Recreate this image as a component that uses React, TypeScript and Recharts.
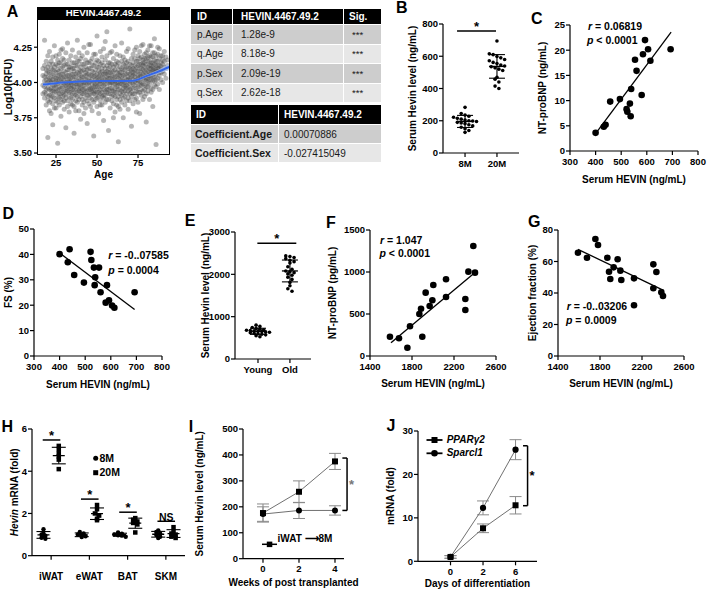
import React from 'react';
import {
  ComposedChart,
  Scatter,
  Line,
  Area,
  XAxis,
  YAxis,
  ErrorBar,
  ReferenceLine,
} from 'recharts';

const FONT = '"Liberation Sans", Arial, Helvetica, sans-serif';

/* ---------- A: plasma HEVIN.4467.49.2 across age ---------- */
// each row: age, then the log10(RFU) readings at that age
const ageCloud: number[][] = [
  [17, 3.98, 4.05, 3.92, 4.1],
  [18, 3.97, 4.04, 3.89, 4.12, 3.93, 4.3, 4.01],
  [19, 4.06, 3.92, 3.99, 4.15, 3.84, 4.02, 3.95, 4.09],
  [20, 3.96, 4.08, 3.9, 4.19, 3.61, 4.0, 3.87, 4.11, 4.04],
  [21, 4.03, 3.86, 3.95, 4.13, 4.22, 3.99, 3.91, 4.07, 3.8, 4.01],
  [22, 3.91, 4.06, 4.0, 3.78, 4.15, 3.96, 4.1, 3.88, 4.02, 3.94],
  [23, 4.09, 3.94, 4.02, 3.85, 4.18, 3.7, 3.98, 4.05, 3.9, 4.13],
  [24, 3.98, 4.11, 3.89, 4.04, 3.93, 4.26, 4.0, 3.82, 4.08, 3.96],
  [25, 4.01, 3.87, 4.13, 3.96, 4.07, 3.82, 3.93, 4.19, 4.03, 3.99],
  [26, 3.94, 4.05, 3.99, 4.16, 3.9, 3.57, 4.09, 3.86, 4.02, 4.12],
  [27, 4.08, 3.92, 4.02, 3.84, 4.2, 3.97, 4.05, 3.89, 4.14, 3.95],
  [28, 3.96, 4.1, 3.88, 4.03, 4.14, 3.76, 4.0, 3.92, 4.23, 4.06],
  [29, 4.0, 3.93, 4.17, 3.86, 4.06, 4.24, 3.97, 4.11, 3.9, 4.03],
  [30, 3.91, 4.04, 3.98, 4.12, 3.81, 4.01, 4.08, 3.94, 4.16, 3.87],
  [31, 4.07, 3.95, 4.21, 3.89, 4.0, 3.68, 4.13, 3.98, 4.04, 3.92],
  [32, 3.99, 4.13, 3.87, 4.05, 3.94, 4.28, 4.02, 3.83, 4.09, 3.96],
  [33, 4.02, 3.9, 4.09, 3.97, 4.16, 3.79, 4.05, 3.93, 4.0, 4.11],
  [34, 3.93, 4.06, 4.0, 3.85, 4.11, 3.96, 4.19, 3.89, 4.03, 3.98],
  [35, 4.1, 3.98, 3.88, 4.03, 4.23, 3.92, 4.06, 3.95, 4.14, 3.84],
  [36, 3.95, 4.08, 4.14, 3.83, 4.0, 3.64, 4.04, 3.91, 4.1, 3.97],
  [37, 4.04, 3.91, 3.99, 4.18, 3.87, 4.06, 3.94, 4.12, 4.01, 3.8],
  [38, 3.97, 4.12, 3.86, 4.01, 4.3, 3.93, 4.07, 3.99, 3.9, 4.15],
  [39, 4.06, 3.94, 4.03, 3.8, 4.15, 3.99, 3.88, 4.09, 4.21, 3.96],
  [40, 3.9, 4.05, 4.11, 3.96, 3.74, 4.02, 4.17, 3.93, 4.08, 3.99],
  [41, 4.01, 3.88, 4.19, 3.95, 4.08, 3.84, 4.04, 3.98, 4.13, 3.92],
  [42, 3.98, 4.13, 3.92, 4.04, 3.86, 4.25, 4.0, 4.09, 3.95, 3.78],
  [43, 4.07, 3.96, 4.0, 3.82, 4.16, 3.93, 4.11, 4.02, 3.89, 4.05],
  [44, 3.94, 4.09, 3.87, 4.02, 4.21, 3.71, 3.99, 4.06, 3.91, 4.14],
  [45, 4.03, 3.91, 4.14, 3.98, 3.85, 4.06, 4.1, 3.95, 4.0, 4.27],
  [46, 3.96, 4.1, 4.01, 3.89, 4.27, 3.95, 4.05, 3.92, 4.15, 3.83],
  [47, 4.05, 3.93, 3.99, 4.17, 3.8, 4.08, 4.02, 3.96, 4.12, 3.88],
  [48, 3.92, 4.04, 4.12, 3.97, 3.86, 3.62, 4.07, 4.0, 3.94, 4.2],
  [49, 4.09, 3.99, 3.88, 4.02, 4.2, 3.94, 4.05, 4.14, 3.91, 3.97],
  [50, 3.97, 4.11, 4.03, 3.83, 4.06, 4.33, 3.93, 4.0, 4.16, 3.89],
  [51, 4.02, 3.9, 4.15, 3.96, 4.08, 3.78, 4.04, 3.99, 4.11, 3.93],
  [52, 3.95, 4.07, 3.99, 4.13, 3.87, 4.01, 4.22, 3.92, 4.05, 3.84],
  [53, 4.1, 3.93, 4.04, 3.84, 4.18, 3.97, 4.01, 4.08, 3.9, 4.14],
  [54, 3.98, 4.12, 3.89, 4.0, 4.24, 3.73, 4.06, 3.95, 4.03, 3.91],
  [55, 4.06, 3.94, 4.16, 3.91, 4.02, 3.86, 4.1, 3.99, 4.07, 4.29],
  [56, 3.93, 4.08, 4.01, 4.19, 3.97, 4.36, 3.88, 4.04, 3.95, 4.12],
  [57, 4.03, 3.88, 4.1, 3.95, 4.05, 3.66, 4.0, 4.14, 3.92, 4.07],
  [58, 3.99, 4.14, 3.92, 4.07, 3.82, 4.0, 4.11, 3.96, 4.03, 4.21],
  [59, 4.08, 3.96, 4.02, 3.87, 4.22, 3.94, 4.05, 3.9, 4.13, 4.0],
  [60, 3.94, 4.05, 4.17, 3.99, 3.85, 4.11, 4.02, 3.91, 4.08, 3.75],
  [61, 4.01, 3.9, 4.09, 3.96, 4.26, 3.79, 4.04, 4.13, 3.93, 3.99],
  [62, 3.97, 4.12, 3.88, 4.04, 3.93, 4.15, 4.0, 4.07, 3.84, 4.2],
  [63, 4.06, 3.98, 4.14, 3.83, 4.0, 3.58, 4.09, 3.95, 4.03, 3.9],
  [64, 3.92, 4.07, 4.02, 3.95, 4.19, 3.88, 4.11, 3.99, 4.05, 3.81],
  [65, 4.04, 3.91, 3.99, 4.1, 3.86, 4.28, 4.01, 3.94, 4.15, 4.07],
  [66, 3.96, 4.13, 4.05, 3.89, 4.01, 3.75, 4.09, 3.93, 4.18, 3.98],
  [67, 4.09, 3.94, 4.0, 4.16, 3.84, 4.03, 3.97, 4.12, 3.9, 4.06],
  [68, 3.98, 4.06, 3.92, 4.11, 4.22, 3.96, 4.02, 3.87, 4.14, 4.0],
  [69, 4.02, 3.89, 4.15, 3.97, 4.07, 3.81, 4.1, 3.94, 4.04, 4.24],
  [70, 3.95, 4.1, 4.03, 3.87, 3.99, 4.38, 4.06, 3.92, 4.13, 4.01],
  [71, 4.07, 3.93, 4.12, 4.0, 3.9, 3.69, 4.04, 4.17, 3.96, 4.09],
  [72, 3.99, 4.14, 3.96, 4.05, 4.2, 3.85, 4.02, 4.1, 3.92, 4.07],
  [73, 4.04, 3.92, 4.09, 3.98, 4.17, 4.01, 4.12, 3.88, 4.06, 4.23],
  [74, 3.96, 4.11, 4.02, 3.89, 4.25, 3.94, 4.08, 4.15, 4.0, 3.79],
  [75, 4.08, 3.97, 4.15, 4.03, 3.86, 4.12, 4.05, 3.93, 4.19, 4.01],
  [76, 4.01, 4.13, 3.93, 4.06, 4.22, 3.78, 4.1, 3.98, 4.04, 4.17],
  [77, 4.1, 3.98, 4.04, 4.18, 3.91, 4.07, 4.13, 4.0, 3.95, 4.26],
  [78, 3.99, 4.12, 4.06, 3.88, 4.16, 4.27, 4.03, 4.09, 3.94, 4.14],
  [79, 4.05, 3.95, 4.14, 4.02, 4.2, 3.9, 4.08, 4.11, 3.98, 4.17],
  [80, 4.09, 4.01, 3.92, 4.17, 4.06, 3.72, 4.13, 4.03, 4.21, 3.97],
  [81, 4.03, 4.15, 3.97, 4.08, 4.23, 3.94, 4.11, 4.05, 4.18, 4.0],
  [82, 4.12, 3.99, 4.05, 4.19, 3.88, 4.1, 4.07, 4.15, 4.02, 4.26],
  [83, 4.07, 4.14, 3.96, 4.02, 4.26, 3.93, 4.1, 4.18, 4.05, 4.12],
  [84, 4.01, 4.11, 4.18, 3.95, 4.08, 3.83, 4.14, 4.04, 4.21, 4.09],
  [85, 4.1, 4.04, 3.98, 4.21, 4.13, 4.31, 4.07, 4.16, 4.01],
  [86, 4.06, 4.15, 3.97, 4.09, 4.02, 3.56, 4.12, 4.19, 4.08],
  [87, 4.12, 4.03, 4.2, 3.99, 4.08, 4.15, 4.1, 4.25],
  [88, 4.05, 4.17, 4.1, 3.95, 4.24, 4.12, 4.07],
  [89, 4.11, 4.02, 4.14, 4.07, 4.19, 4.09],
  [90, 4.08, 4.19, 4.0, 4.13, 4.16],
  [91, 4.15, 4.06, 4.22, 4.11],
  [92, 4.1, 4.18, 4.03],
  [93, 4.12, 4.16],
];
const loessAge = [17, 25, 35, 50, 60, 72, 80, 87, 94];
const loessFit = [3.985, 3.995, 4.003, 4.01, 4.011, 4.013, 4.045, 4.075, 4.11];
const loessHalfBand = [0.012, 0.007, 0.005, 0.005, 0.005, 0.006, 0.009, 0.014, 0.022];
const ageTicks = [25, 50, 75];
const rfuTicks = [3.5, 3.75, 4.0, 4.25];

const pValueRows = [
  ['p.Age', '1.28e-9', '***'],
  ['q.Age', '8.18e-9', '***'],
  ['p.Sex', '2.09e-19', '***'],
  ['q.Sex', '2.62e-18', '***'],
];
const coefRows = [
  ['Coefficient.Age', '0.00070886'],
  ['Coefficient.Sex', '-0.027415049'],
];

/* ---------- B: serum Hevin in 8- and 20-month mice ---------- */
const mouseAges = ['8M', '20M'];
const serum8M = [283, 245, 235, 228, 222, 215, 210, 205, 200, 198, 195, 190, 186, 182, 175, 168, 160, 150, 140, 128];
const serum20M = [695, 615, 610, 598, 590, 580, 572, 562, 555, 545, 540, 535, 528, 520, 512, 470, 458, 440, 415, 400];

/* ---------- C / D: the same 18 mice ---------- */
const mouseHevin = [400, 432, 439, 457, 495, 521, 524, 534, 537, 539, 554, 560, 580, 585, 593, 605, 614, 693];
const mouseNtProBnp = [3.6, 4.8, 5.2, 9.8, 10.3, 8.3, 7.8, 9.4, 6.9, 12.3, 18.1, 15.9, 11.1, 19.2, 22.0, 20.2, 17.9, 20.2];
const mouseFs = [40.1, 36.9, 42.0, 31.9, 28.9, 41.0, 37.8, 34.8, 27.9, 31.0, 34.8, 25.1, 21.0, 27.9, 21.9, 19.9, 19.0, 25.1];
const cSlope = 0.06819;
const dSlope = -0.07585;

/* ---------- E: serum Hevin, young vs old people ---------- */
const humanAges = ['Young', 'Old'];
const serumYoung = [800, 770, 745, 720, 705, 690, 680, 672, 665, 655, 648, 640, 632, 622, 610, 598, 585, 570, 552, 525];
const serumOld = [2435, 2420, 2395, 2370, 2330, 2300, 2270, 2180, 2120, 2080, 2060, 2040, 2010, 1980, 1930, 1880, 1810, 1730, 1660, 1600];

/* ---------- F / G: the same 18 people ---------- */
const humanHevin = [1590, 1676, 1756, 1781, 1870, 1886, 1898, 1930, 1968, 1994, 2003, 2124, 2124, 2308, 2308, 2337, 2384, 2400];
const humanNtProBnp = [230, 211, 99, 354, 500, 563, 230, 754, 595, 663, 845, 913, 702, 679, 548, 1004, 1310, 992];
const humanEf = [65.6, 62.4, 74.3, 70.5, 62.4, 53.5, 48.9, 56.3, 61.4, 54.2, 48.3, 49.3, 32.2, 58.2, 43.0, 53.3, 40.4, 38.1];
const fSlope = 1.047;
const gSlope = -0.03206;

/* ---------- H: Hevin mRNA by tissue ---------- */
const tissues = ['iWAT', 'eWAT', 'BAT', 'SKM'];
const tissue8M = [
  [1.25, 1.05, 1.0, 0.95, 0.85, 0.8],
  [1.12, 1.05, 1.0, 0.97, 0.92, 0.88],
  [1.1, 1.04, 1.0, 0.97, 0.95, 0.9],
  [1.2, 1.12, 1.05, 0.98, 0.9, 0.84],
];
const tissue20M = [
  [5.2, 5.05, 4.85, 4.7, 4.55, 4.1],
  [2.4, 2.2, 2.0, 1.9, 1.75, 1.68],
  [1.78, 1.7, 1.62, 1.55, 1.48, 1.1],
  [1.35, 1.15, 1.05, 1.0, 0.9, 0.84],
];
const tissueSig = ['*', '*', '*', 'NS'];

/* ---------- I: serum Hevin after iWAT transplant ---------- */
const weeks = [0, 2, 4];
const iwatMean = [176, 258, 375];
const iwatSd = [35, 42, 31];
const ctrlMean = [172, 186, 186];
const ctrlSd = [28, 31, 18];

/* ---------- J: adipocyte differentiation ---------- */
const diffDays = ['0', '2', '6'];
const ppargMean = [1, 7.6, 12.9];
const ppargSd = [0.3, 1.0, 2.0];
const sparclMean = [1, 12.3, 25.7];
const sparclSd = [0.3, 1.6, 2.3];

/* ---------- helpers ---------- */
const mean = (v: number[]) => v.reduce((a, b) => a + b, 0) / v.length;
const sd = (v: number[]) => {
  const m = mean(v);
  return Math.sqrt(v.reduce((a, b) => a + (b - m) ** 2, 0) / (v.length - 1));
};

// column scatter: values falling in the same bin are spread sideways around the group centre
function swarm(values: number[], centre: number, bin: number, step: number) {
  const rows = new Map<number, number[]>();
  values.forEach((v) => {
    const k = Math.round(v / bin);
    rows.set(k, [...(rows.get(k) ?? []), v]);
  });
  const out: { x: number; y: number }[] = [];
  rows.forEach((row) =>
    row.forEach((v, i) => out.push({ x: centre + (i - (row.length - 1) / 2) * step, y: v })),
  );
  return out;
}

const fitEnds = (slope: number, at: [number, number], from: number, to: number) =>
  [from, to].map((x) => ({ x, y: at[1] + slope * (x - at[0]) }));

const pairs = (xs: number[], ys: number[]) => xs.map((x, i) => ({ x, y: ys[i] }));

// chart box from the plot rectangle (page px) plus the axis gutters
const frame = (pl: number, pt: number, pw: number, ph: number, yw: number, xh: number, mt = 8, mr = 12) => ({
  left: pl - yw,
  top: pt - mt,
  width: yw + pw + mr,
  height: mt + ph + xh,
  margin: { top: mt, right: mr, bottom: 0, left: 0 },
  yw,
  xh,
});

function Panel({ box, children }: any) {
  return (
    <div style={{ position: 'absolute', left: box.left, top: box.top }}>
      <ComposedChart width={box.width} height={box.height} margin={box.margin}>
        {children}
      </ComposedChart>
    </div>
  );
}

const dot = (r: number, fill: string, opacity = 1) => (p: any) =>
  <circle cx={p.cx} cy={p.cy} r={r} fill={fill} fillOpacity={opacity} />;
const square = (s: number, fill: string) => (p: any) =>
  <rect key={`${p.cx}-${p.cy}`} x={p.cx - s / 2} y={p.cy - s / 2} width={s} height={s} fill={fill} />;
const roundMarker = (r: number, fill: string) => (p: any) =>
  <circle key={`${p.cx}-${p.cy}`} cx={p.cx} cy={p.cy} r={r} fill={fill} />;
const meanBar = (w: number) => (p: any) =>
  <line x1={p.cx - w / 2} x2={p.cx + w / 2} y1={p.cy} y2={p.cy} stroke="#000" strokeWidth={1.3} />;

const axisStroke = { stroke: '#000', strokeWidth: 1.2 };
const tickStyle = { fill: '#000', fontSize: 9.5, fontWeight: 700, fontFamily: FONT };
const xBase = {
  type: 'number' as const,
  allowDataOverflow: true,
  axisLine: axisStroke,
  tickLine: axisStroke,
  tick: tickStyle,
  tickSize: 4,
  tickMargin: 3,
  interval: 0 as const,
};
const yBase = { ...xBase, tickMargin: 1 };
const titleStyle = { fill: '#000', fontSize: 10, fontWeight: 700, fontFamily: FONT, textAnchor: 'middle' as const };
const yTitle = (value: string, offset = 5) => ({
  value,
  angle: -90,
  position: 'insideLeft' as const,
  offset,
  style: titleStyle,
});
// baseline sits 4px above the svg edge so descenders stay visible
const xTitle = (value: string) => ({ value, position: 'insideBottom' as const, offset: 4, style: titleStyle });
const starLabel = (value: string, size = 13) => ({
  value,
  position: 'top' as const,
  offset: 0,
  fill: '#000',
  fontSize: size,
  fontWeight: 700,
  fontFamily: FONT,
});

function Note({ x, cy, size = 10.5, children, style }: any) {
  return (
    <div
      style={{
        position: 'absolute',
        left: x,
        top: cy - size / 2,
        fontSize: size,
        lineHeight: 1,
        fontWeight: 700,
        whiteSpace: 'nowrap',
        ...style,
      }}
    >
      {children}
    </div>
  );
}

/* ---------- derived series ---------- */
const cloudPoints = ageCloud.flatMap(([age, ...vals]) => vals.map((y) => ({ x: age, y })));
const loessData = loessAge.map((x, i) => ({
  x,
  y: loessFit[i],
  band: [loessFit[i] - loessHalfBand[i], loessFit[i] + loessHalfBand[i]],
}));

const groupMeans = (groups: number[][], xs: number[]) =>
  groups.map((g, i) => ({ x: xs[i], y: mean(g), sd: sd(g) }));

const boxA = frame(37, 19, 133, 136, 34, 26.5);
const boxB = frame(443, 24, 76, 129, 36, 18);
const boxC = frame(570, 25, 128, 126, 33, 35.5, 8, 11);
const boxD = frame(34, 229, 128, 127, 31, 35.5);
const boxE = frame(235, 232, 76, 127, 35, 18);
const boxF = frame(370, 230, 126, 126, 43, 34.8);
const boxG = frame(558, 230, 126, 126, 31, 34.8, 8, 18);
const boxH = frame(32, 429.3, 153, 126.7, 23, 30, 8, 8);
const boxI = frame(243, 429.3, 101, 129.7, 49, 31.5, 8, 22);
const boxJ = frame(418, 430.7, 119, 130.3, 33, 29.8, 8, 20);

const tableCell = { padding: '0 0 0 6px', border: '1px solid #fff', whiteSpace: 'nowrap' as const, overflow: 'hidden' };

export default function App() {
  const hPts8M = tissue8M.flatMap((v, t) => swarm(v, t - 0.2, 0.12, 0.1));
  const hPts20M = tissue20M.flatMap((v, t) => swarm(v, t + 0.2, 0.15, 0.11));
  const hMeans = [
    ...groupMeans(tissue8M, tissues.map((_, t) => t - 0.2)),
    ...groupMeans(tissue20M, tissues.map((_, t) => t + 0.2)),
  ];
  const iwatSeries = weeks.map((x, i) => ({ x, y: iwatMean[i], err: iwatSd[i] }));
  const ctrlSeries = weeks.map((x, i) => ({ x, y: ctrlMean[i], err: ctrlSd[i] }));
  const ppargSeries = diffDays.map((_, i) => ({ x: i, y: ppargMean[i], err: ppargSd[i] }));
  const sparclSeries = diffDays.map((_, i) => ({ x: i, y: sparclMean[i], err: sparclSd[i] }));

  return (
    <div
      style={{
        position: 'absolute',
        left: 0,
        top: 0,
        width: 709,
        height: 592,
        background: '#fff',
        fontFamily: FONT,
        color: '#000',
        overflow: 'hidden',
      }}
    >
      {/* A: point cloud with axes */}
      <Panel box={boxA}>
        <XAxis dataKey="x" {...xBase} domain={[13.4, 94.5]} ticks={ageTicks} axisLine={false} tickSize={3} tickMargin={1} height={boxA.xh} label={xTitle('Age')} />
        <YAxis dataKey="y" {...yBase} domain={[3.486, 4.45]} ticks={rfuTicks} axisLine={false} tickSize={3} tickMargin={2} width={boxA.yw} tickFormatter={(v: number) => v.toFixed(2)} label={yTitle('Log10(RFU)')} />
        <Scatter data={cloudPoints} shape={dot(2.5, '#4a4a4a', 0.4)} isAnimationActive={false} />
      </Panel>
      {/* A: smooth fit drawn on a second layer so it sits above the cloud */}
      <Panel box={boxA}>
        <XAxis dataKey="x" type="number" allowDataOverflow domain={[13.4, 94.5]} tick={false} axisLine={false} tickLine={false} height={boxA.xh} />
        <YAxis dataKey="y" type="number" allowDataOverflow domain={[3.486, 4.45]} tick={false} axisLine={false} tickLine={false} width={boxA.yw} />
        <Area data={loessData} dataKey="band" type="monotone" stroke="none" fill="#a9c1f0" fillOpacity={0.75} isAnimationActive={false} />
        <Line data={loessData} dataKey="y" type="monotone" stroke="#3567e8" strokeWidth={2} dot={false} isAnimationActive={false} />
      </Panel>
      <div style={{ position: 'absolute', left: 37, top: 19, width: 133, height: 136, border: '1px solid #000', boxSizing: 'border-box' }} />
      <div style={{ position: 'absolute', left: 37, top: 7, width: 133, height: 12, background: '#000', color: '#fff', fontSize: 9.7, fontWeight: 700, lineHeight: '12px', textAlign: 'center' }}>
        HEVIN.4467.49.2
      </div>

      {/* A tables */}
      <table style={{ position: 'absolute', left: 190, top: 8, width: 191, borderCollapse: 'collapse', tableLayout: 'fixed', fontSize: 10, color: '#1a1a1a' }}>
        <colgroup>
          <col style={{ width: 42 }} />
          <col style={{ width: 111 }} />
          <col style={{ width: 38 }} />
        </colgroup>
        <tbody>
          <tr style={{ height: 16, background: '#000', color: '#fff', fontWeight: 700 }}>
            <td style={tableCell}>ID</td>
            <td style={{ ...tableCell, paddingLeft: 8 }}>HEVIN.4467.49.2</td>
            <td style={{ ...tableCell, paddingLeft: 5 }}>Sig.</td>
          </tr>
          {pValueRows.map((r, i) => (
            <tr key={r[0]} style={{ height: 19.5, background: i % 2 === 0 ? '#cdcdcd' : '#e7e7e7' }}>
              <td style={tableCell}>{r[0]}</td>
              <td style={{ ...tableCell, paddingLeft: 8 }}>{r[1]}</td>
              <td style={{ ...tableCell, paddingLeft: 8, fontSize: 9.5 }}>{r[2]}</td>
            </tr>
          ))}
        </tbody>
      </table>
      <table style={{ position: 'absolute', left: 190, top: 104, width: 191, borderCollapse: 'collapse', tableLayout: 'fixed', fontSize: 10, color: '#1a1a1a' }}>
        <colgroup>
          <col style={{ width: 88 }} />
          <col style={{ width: 103 }} />
        </colgroup>
        <tbody>
          <tr style={{ height: 20, background: '#000', color: '#fff', fontWeight: 700 }}>
            <td style={{ ...tableCell, paddingLeft: 5 }}>ID</td>
            <td style={{ ...tableCell, paddingLeft: 5 }}>HEVIN.4467.49.2</td>
          </tr>
          {coefRows.map((r, i) => (
            <tr key={r[0]} style={{ height: 19, background: i % 2 === 0 ? '#cdcdcd' : '#e7e7e7' }}>
              <td style={{ ...tableCell, paddingLeft: 4, fontWeight: 700, fontSize: 10.5 }}>{r[0]}</td>
              <td style={{ ...tableCell, paddingLeft: 5 }}>{r[1]}</td>
            </tr>
          ))}
        </tbody>
      </table>

      {/* B */}
      <Panel box={boxB}>
        <XAxis dataKey="x" {...xBase} domain={[0.31, 2.69]} ticks={[1, 2]} tickFormatter={(v: number) => mouseAges[v - 1]} height={boxB.xh} />
        <YAxis dataKey="y" {...yBase} domain={[0, 800]} ticks={[0, 200, 400, 600, 800]} width={boxB.yw} label={yTitle('Serum Hevin level (ng/mL)')} />
        <Scatter data={swarm(serum8M, 1, 30, 0.12)} shape={dot(1.8, '#000')} isAnimationActive={false} />
        <Scatter data={swarm(serum20M, 2, 40, 0.12)} shape={dot(1.8, '#000')} isAnimationActive={false} />
        <Scatter data={groupMeans([serum8M, serum20M], [1, 2])} shape={meanBar(16)} isAnimationActive={false}>
          <ErrorBar dataKey="sd" direction="y" width={8} stroke="#000" strokeWidth={1.1} />
        </Scatter>
        <ReferenceLine segment={[{ x: 0.75, y: 757 }, { x: 1.97, y: 757 }]} stroke="#000" strokeWidth={1.5} ifOverflow="visible" label={starLabel('*')} />
      </Panel>

      {/* C */}
      <Panel box={boxC}>
        <XAxis dataKey="x" {...xBase} domain={[300, 800]} ticks={[300, 400, 500, 600, 700, 800]} height={boxC.xh} label={xTitle('Serum HEVIN (ng/mL)')} />
        <YAxis dataKey="y" {...yBase} domain={[0, 25]} ticks={[0, 5, 10, 15, 20, 25]} width={boxC.yw} label={yTitle('NT-proBNP (ng/mL)')} />
        <Scatter data={pairs(mouseHevin, mouseNtProBnp)} shape={dot(3.3, '#000')} isAnimationActive={false} />
        <Line data={fitEnds(cSlope, [545, 13.35], 400, 695)} dataKey="y" stroke="#000" strokeWidth={1.3} dot={false} isAnimationActive={false} />
      </Panel>

      {/* D */}
      <Panel box={boxD}>
        <XAxis dataKey="x" {...xBase} domain={[300, 800]} ticks={[300, 400, 500, 600, 700, 800]} height={boxD.xh} label={xTitle('Serum HEVIN (ng/mL)')} />
        <YAxis dataKey="y" {...yBase} domain={[0, 50]} ticks={[0, 10, 20, 30, 40, 50]} width={boxD.yw} label={yTitle('FS (%)')} />
        <Scatter data={pairs(mouseHevin, mouseFs)} shape={dot(3.3, '#000')} isAnimationActive={false} />
        <Line data={fitEnds(dSlope, [546.5, 29.45], 400, 693)} dataKey="y" stroke="#000" strokeWidth={1.3} dot={false} isAnimationActive={false} />
      </Panel>

      {/* E */}
      <Panel box={boxE}>
        <XAxis dataKey="x" {...xBase} domain={[0.28, 2.66]} ticks={[1, 2]} tickFormatter={(v: number) => humanAges[v - 1]} height={boxE.xh} />
        <YAxis dataKey="y" {...yBase} domain={[0, 3000]} ticks={[0, 1000, 2000, 3000]} width={boxE.yw} label={yTitle('Serum Hevin level (ng/mL)')} />
        <Scatter data={swarm(serumYoung, 1, 60, 0.12)} shape={dot(1.8, '#000')} isAnimationActive={false} />
        <Scatter data={swarm(serumOld, 2, 90, 0.13)} shape={dot(1.8, '#000')} isAnimationActive={false} />
        <Scatter data={groupMeans([serumYoung, serumOld], [1, 2])} shape={meanBar(16)} isAnimationActive={false}>
          <ErrorBar dataKey="sd" direction="y" width={8} stroke="#000" strokeWidth={1.1} />
        </Scatter>
        <ReferenceLine segment={[{ x: 0.98, y: 2735 }, { x: 2.2, y: 2735 }]} stroke="#000" strokeWidth={1.5} ifOverflow="visible" label={starLabel('*')} />
      </Panel>

      {/* F */}
      <Panel box={boxF}>
        <XAxis dataKey="x" {...xBase} domain={[1400, 2600]} ticks={[1400, 1800, 2200, 2600]} height={boxF.xh} label={xTitle('Serum HEVIN (ng/mL)')} />
        <YAxis dataKey="y" {...yBase} domain={[0, 1500]} ticks={[0, 500, 1000, 1500]} width={boxF.yw} label={yTitle('NT-proBNP (pg/mL)')} />
        <Scatter data={pairs(humanHevin, humanNtProBnp)} shape={dot(3.3, '#000')} isAnimationActive={false} />
        <Line data={fitEnds(fSlope, [2005, 581], 1600, 2400)} dataKey="y" stroke="#000" strokeWidth={1.3} dot={false} isAnimationActive={false} />
      </Panel>

      {/* G */}
      <Panel box={boxG}>
        <XAxis dataKey="x" {...xBase} domain={[1400, 2600]} ticks={[1400, 1800, 2200, 2600]} height={boxG.xh} label={xTitle('Serum HEVIN (ng/mL)')} />
        <YAxis dataKey="y" {...yBase} domain={[0, 80]} ticks={[0, 20, 40, 60, 80]} width={boxG.yw} label={yTitle('Ejection fraction (%)')} />
        <Scatter data={pairs(humanHevin, humanEf)} shape={dot(3.3, '#000')} isAnimationActive={false} />
        <Line data={fitEnds(gSlope, [2000, 54.6], 1590, 2410)} dataKey="y" stroke="#000" strokeWidth={1.3} dot={false} isAnimationActive={false} />
      </Panel>

      {/* H */}
      <Panel box={boxH}>
        <XAxis dataKey="x" {...xBase} domain={[-0.5, 3.5]} ticks={[0, 1, 2, 3]} tickMargin={13} tickFormatter={(v: number) => tissues[v]} tick={{ ...tickStyle, fontSize: 10 }} height={boxH.xh} />
        <YAxis
          dataKey="y"
          {...yBase}
          domain={[0, 6]}
          ticks={[0, 2, 4, 6]}
          width={boxH.yw}
          label={(p: any) => {
            const vb = p.viewBox;
            const x = vb.x + 5;
            const y = vb.y + vb.height / 2;
            return (
              <text x={x} y={y} dy="0.35em" transform={`rotate(-90 ${x} ${y})`} textAnchor="middle" fontSize={10} fontWeight={700} fontFamily={FONT} fill="#000">
                <tspan fontStyle="italic">Hevin</tspan> mRNA (fold)
              </text>
            );
          }}
        />
        <Scatter data={hPts8M} shape={dot(2.2, '#000')} isAnimationActive={false} />
        <Scatter data={hPts20M} shape={square(4.5, '#000')} isAnimationActive={false} />
        <Scatter data={hMeans} shape={meanBar(12)} isAnimationActive={false}>
          <ErrorBar dataKey="sd" direction="y" width={7} stroke="#000" strokeWidth={1.1} />
        </Scatter>
        {tissues.map((t, i) => {
          const top = Math.max(...tissue20M[i], ...tissue8M[i]) + 0.28;
          return (
            <ReferenceLine
              key={t}
              segment={[{ x: i - 0.22, y: top }, { x: i + 0.24, y: top }]}
              stroke="#000"
              strokeWidth={1.5}
              ifOverflow="visible"
              label={starLabel(tissueSig[i], tissueSig[i] === 'NS' ? 10.5 : 13)}
            />
          );
        })}
      </Panel>
      <div style={{ position: 'absolute', left: 93, top: 452 }}>
        <svg width={7} height={26} style={{ position: 'absolute', left: 0, top: 0 }}>
          <circle cx={2.7} cy={6.3} r={2.5} fill="#000" />
          <rect x={0.2} y={18.2} width={5} height={5} fill="#000" />
        </svg>
      </div>
      <Note x={99.5} cy={458.3}>8M</Note>
      <Note x={99.5} cy={472.7}>20M</Note>

      {/* I */}
      <Panel box={boxI}>
        <XAxis dataKey="x" {...xBase} domain={[-1.11, 4.5]} ticks={weeks} height={boxI.xh} label={xTitle('Weeks of post transplanted')} />
        <YAxis dataKey="y" {...yBase} domain={[0, 500]} ticks={[0, 100, 200, 300, 400, 500]} width={boxI.yw} label={yTitle('Serum Hevin level (ng/mL)')} />
        <Line data={ctrlSeries} dataKey="y" stroke="#6f6f6f" strokeWidth={1} dot={roundMarker(3, '#000')} isAnimationActive={false}>
          <ErrorBar dataKey="err" direction="y" width={6} stroke="#8a8a8a" strokeWidth={1} />
        </Line>
        <Line data={iwatSeries} dataKey="y" stroke="#6f6f6f" strokeWidth={1} dot={square(6, '#000')} isAnimationActive={false}>
          <ErrorBar dataKey="err" direction="y" width={6} stroke="#8a8a8a" strokeWidth={1} />
        </Line>
        <ReferenceLine segment={[{ x: 4.41, y: 388 }, { x: 4.67, y: 388 }]} stroke="#000" strokeWidth={1.5} ifOverflow="visible" />
        <ReferenceLine segment={[{ x: 4.41, y: 186 }, { x: 4.67, y: 186 }]} stroke="#000" strokeWidth={1.5} ifOverflow="visible" />
        <ReferenceLine
          segment={[{ x: 4.67, y: 388 }, { x: 4.67, y: 186 }]}
          stroke="#000"
          strokeWidth={1.5}
          ifOverflow="visible"
          label={{ value: '*', position: 'right', offset: 2, fill: '#777', fontSize: 13, fontWeight: 700, fontFamily: FONT }}
        />
      </Panel>
      <div style={{ position: 'absolute', left: 262, top: 535 }}>
        <svg width={16} height={9}>
          <line x1={0} x2={15} y1={4.3} y2={4.3} stroke="#000" strokeWidth={1.5} />
          <rect x={4.8} y={1.6} width={5.5} height={5.5} fill="#000" />
        </svg>
      </div>
      <Note x={277.5} cy={539.3} size={10}>iWAT ⟶8M</Note>

      {/* J */}
      <Panel box={boxJ}>
        <XAxis dataKey="x" {...xBase} domain={[-1, 2.66]} ticks={[0, 1, 2]} tickFormatter={(v: number) => diffDays[v]} height={boxJ.xh} label={xTitle('Days of differentiation')} />
        <YAxis dataKey="y" {...yBase} domain={[0, 30]} ticks={[0, 10, 20, 30]} width={boxJ.yw} label={yTitle('mRNA (fold)')} />
        <Line data={ppargSeries} dataKey="y" stroke="#6f6f6f" strokeWidth={1} dot={square(6, '#000')} isAnimationActive={false}>
          <ErrorBar dataKey="err" direction="y" width={6} stroke="#8a8a8a" strokeWidth={1} />
        </Line>
        <Line data={sparclSeries} dataKey="y" stroke="#6f6f6f" strokeWidth={1} dot={roundMarker(3.1, '#000')} isAnimationActive={false}>
          <ErrorBar dataKey="err" direction="y" width={6} stroke="#8a8a8a" strokeWidth={1} />
        </Line>
        <ReferenceLine segment={[{ x: 2.23, y: 26.6 }, { x: 2.37, y: 26.6 }]} stroke="#000" strokeWidth={1.5} ifOverflow="visible" />
        <ReferenceLine segment={[{ x: 2.23, y: 12.8 }, { x: 2.37, y: 12.8 }]} stroke="#000" strokeWidth={1.5} ifOverflow="visible" />
        <ReferenceLine
          segment={[{ x: 2.37, y: 26.6 }, { x: 2.37, y: 12.8 }]}
          stroke="#000"
          strokeWidth={1.5}
          ifOverflow="visible"
          label={{ value: '*', position: 'right', offset: 2, fill: '#000', fontSize: 13, fontWeight: 700, fontFamily: FONT }}
        />
      </Panel>
      <div style={{ position: 'absolute', left: 426, top: 435 }}>
        <svg width={17} height={24}>
          <line x1={0.5} x2={16.5} y1={5} y2={5} stroke="#000" strokeWidth={1.8} />
          <rect x={5.5} y={2} width={6} height={6} fill="#000" />
          <line x1={0.5} x2={16.5} y1={18.3} y2={18.3} stroke="#000" strokeWidth={1.8} />
          <circle cx={8.5} cy={18.3} r={3.3} fill="#000" />
        </svg>
      </div>
      <Note x={446.7} cy={440} size={10} style={{ fontStyle: 'italic' }}>PPARγ2</Note>
      <Note x={446.7} cy={453.3} size={10} style={{ fontStyle: 'italic' }}>Sparcl1</Note>

      {/* regression annotations */}
      <Note x={588} cy={26.7}><i>r</i> = 0.06819</Note>
      <Note x={587} cy={40}><i>p</i> &lt; 0.0001</Note>
      <Note x={108.3} cy={255}><i>r</i> = -0..07585</Note>
      <Note x={108.3} cy={270}><i>p</i> = 0.0004</Note>
      <Note x={380} cy={240.7}><i>r</i> = 1.047</Note>
      <Note x={379.5} cy={253.3}><i>p</i> &lt; 0.0001</Note>
      <Note x={566.7} cy={306.7}><i>r</i> = -0..03206</Note>
      <Note x={566} cy={320}><i>p</i> = 0.0009</Note>

      {/* panel letters */}
      <Note x={6.7} cy={11.5} size={16}>A</Note>
      <Note x={396} cy={7.5} size={16}>B</Note>
      <Note x={531} cy={19} size={16}>C</Note>
      <Note x={2.5} cy={214} size={16}>D</Note>
      <Note x={184.7} cy={221} size={16}>E</Note>
      <Note x={326} cy={223} size={16}>F</Note>
      <Note x={528} cy={221.7} size={16}>G</Note>
      <Note x={1.5} cy={426.7} size={16}>H</Note>
      <Note x={188.8} cy={426.7} size={16}>I</Note>
      <Note x={386.5} cy={425.7} size={16}>J</Note>
    </div>
  );
}
